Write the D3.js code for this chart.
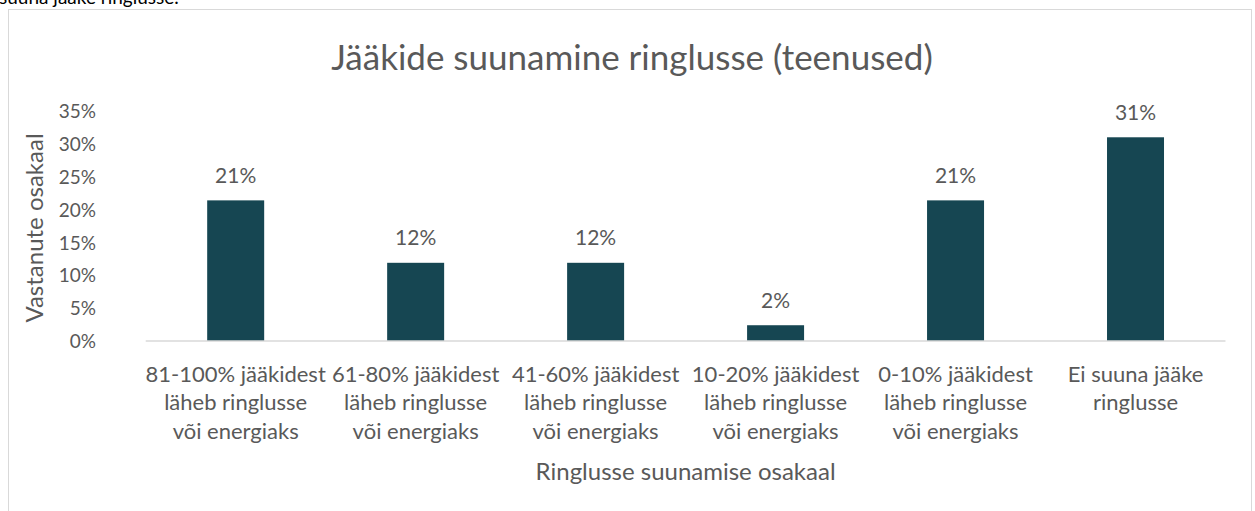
<!DOCTYPE html>
<html>
<head>
<meta charset="utf-8">
<script src="https://cdn.jsdelivr.net/npm/d3@7"></script>
<style>
  html, body { margin: 0; padding: 0; background: #fff; }
  svg { display: block; }
  text { font-family: Lato, "Open Sans", sans-serif; }
</style>
</head>
<body>
<svg id="chart" width="1255" height="511"></svg>
<script>
const categories = [
  ["81-100% jääkidest", "läheb ringlusse", "või energiaks"],
  ["61-80% jääkidest", "läheb ringlusse", "või energiaks"],
  ["41-60% jääkidest", "läheb ringlusse", "või energiaks"],
  ["10-20% jääkidest", "läheb ringlusse", "või energiaks"],
  ["0-10% jääkidest", "läheb ringlusse", "või energiaks"],
  ["Ei suuna jääke", "ringlusse"]
];
const values = [0.214, 0.119, 0.119, 0.024, 0.214, 0.310];
const valueLabels = ["21%", "12%", "12%", "2%", "21%", "31%"];
const yTicks = [0, 0.05, 0.10, 0.15, 0.20, 0.25, 0.30, 0.35];
const titleText = "Jääkide suunamine ringlusse (teenused)";
const yTitle = "Vastanute osakaal";
const xTitle = "Ringlusse suunamise osakaal";
const aboveText = "suuna jääke ringlusse.";

const svg = d3.select("#chart");
const textColor = "#595959";
const barColor = "#164652";

// text above chart (cut off at the top edge, as in the reference)
svg.append("text").attr("x", -1).attr("y", 4)
  .attr("font-size", 19).attr("fill", "#000").text(aboveText);

// chart border
svg.append("rect").attr("x", 8.5).attr("y", 9.5).attr("width", 1243).attr("height", 520)
  .attr("fill", "#fff").attr("stroke", "#d9d9d9").attr("stroke-width", 1);

const plotLeft = 145.7, plotRight = 1225.5, plotTop = 111, plotBottom = 341;
const pad = 1 - 57 / 180;
const x = d3.scaleBand().domain(d3.range(categories.length))
  .range([plotLeft, plotRight]).paddingInner(pad).paddingOuter(pad / 2);
const y = d3.scaleLinear().domain([0, 0.35]).range([plotBottom, plotTop]);

// title
svg.append("text").attr("x", 632).attr("y", 56).attr("text-anchor", "middle")
  .attr("dominant-baseline", "central")
  .attr("font-size", 35).attr("fill", textColor).text(titleText);

// y axis
const yAxis = d3.axisLeft(y).tickValues(yTicks).tickFormat(d3.format(".0%")).tickSize(0).tickPadding(0);
const yg = svg.append("g").attr("transform", "translate(96,0)").call(yAxis);
yg.select(".domain").remove();
yg.selectAll("text").attr("font-size", 19).attr("fill", textColor)
  .attr("font-family", "Lato, 'Open Sans', sans-serif").attr("dy", "0.35em");

// bars
svg.append("g").selectAll("rect").data(values).join("rect")
  .attr("x", (d, i) => x(i)).attr("width", x.bandwidth())
  .attr("y", d => y(d)).attr("height", d => y(0) - y(d))
  .attr("fill", barColor);

// x axis line
const xAxis = d3.axisBottom(x).tickSize(0).tickFormat("");
const xg = svg.append("g").attr("transform", `translate(0,${y(0)})`).call(xAxis);
xg.select(".domain").attr("stroke", "#d9d9d9").attr("stroke-width", 1.5).attr("d", `M${plotLeft},0H${plotRight}`);

// category labels
const catG = svg.append("g");
categories.forEach((lines, i) => {
  const t = catG.append("text").attr("text-anchor", "middle")
    .attr("font-size", 22).attr("fill", textColor);
  lines.forEach((ln, j) => {
    t.append("tspan").attr("x", x(i) + x.bandwidth() / 2)
      .attr("y", 373 + j * 28.5).attr("dominant-baseline", "central").text(ln);
  });
});

// data labels
svg.append("g").selectAll("text").data(values).join("text")
  .attr("x", (d, i) => x(i) + x.bandwidth() / 2)
  .attr("y", d => y(d) - 26).attr("text-anchor", "middle")
  .attr("dominant-baseline", "central")
  .attr("font-size", 21).attr("fill", textColor)
  .text((d, i) => valueLabels[i]);

// axis titles
svg.append("text").attr("x", (plotLeft + plotRight) / 2).attr("y", 470).attr("text-anchor", "middle")
  .attr("dominant-baseline", "central")
  .attr("font-size", 24).attr("fill", textColor).text(xTitle);

svg.append("text").attr("transform", "translate(33,228) rotate(-90)")
  .attr("text-anchor", "middle").attr("dominant-baseline", "central")
  .attr("font-size", 24).attr("fill", textColor).text(yTitle);
</script>
</body>
</html>
